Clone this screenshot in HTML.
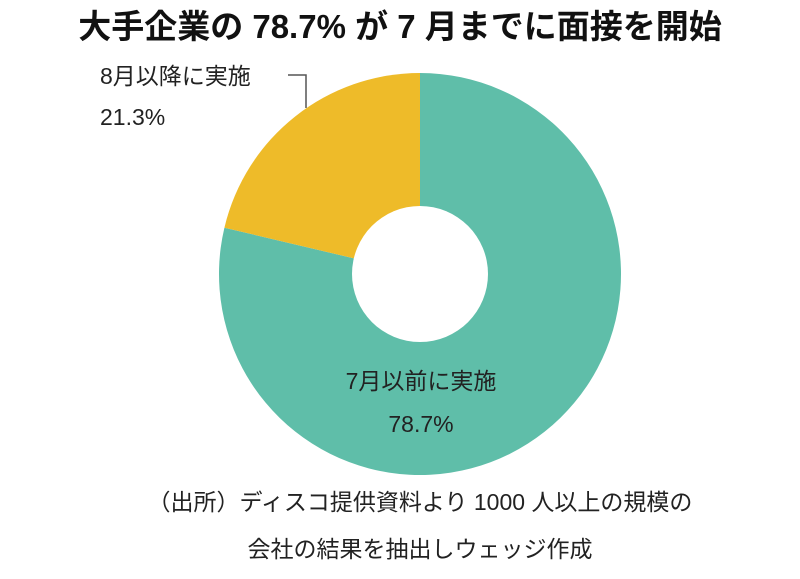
<!DOCTYPE html>
<html><head><meta charset="utf-8"><style>
body{margin:0;width:800px;height:574px;background:#fff;overflow:hidden;font-family:"Liberation Sans","Noto Sans CJK JP",sans-serif}
</style></head><body>
<svg width="800" height="574" font-family="Liberation Sans, Noto Sans CJK JP, sans-serif">
<text x="400" y="38" text-anchor="middle" font-size="33" font-weight="bold" fill="#111">大手企業の 78.7% が 7 月までに面接を開始</text>
<g id="slices"></g>
<circle cx="420" cy="274" r="68" fill="#fff"/>
<polyline points="288,75 306,75 306,108" fill="none" stroke="#555" stroke-width="1.5"/>
<text x="100" y="84" font-size="23" fill="#222">8月以降に実施</text>
<text x="100" y="125" font-size="23" fill="#222">21.3%</text>
<text x="421" y="389" text-anchor="middle" font-size="23" fill="#222">7月以前に実施</text>
<text x="421" y="432" text-anchor="middle" font-size="23" fill="#222">78.7%</text>
<text x="420" y="510" text-anchor="middle" font-size="23" fill="#222">（出所）ディスコ提供資料より 1000 人以上の規模の</text>
<text x="420" y="557" text-anchor="middle" font-size="23" fill="#222">会社の結果を抽出しウェッジ作成</text>
</svg>
<script>
const categories=["7月以前に実施","8月以降に実施"];
const values=[78.7,21.3];
const colors=["#5fbea9","#eebb29"];
const cx=420,cy=274,r=201;
const g=document.getElementById('slices');
const total=values.reduce((a,b)=>a+b,0);
let start=0;
values.forEach((v,i)=>{
  const a0=start/total*2*Math.PI, a1=(start+v)/total*2*Math.PI;
  start+=v;
  const x0=cx+r*Math.sin(a0),y0=cy-r*Math.cos(a0),x1=cx+r*Math.sin(a1),y1=cy-r*Math.cos(a1);
  const large=(a1-a0)>Math.PI?1:0;
  const p=document.createElementNS('http://www.w3.org/2000/svg','path');
  p.setAttribute('d',`M${cx},${cy} L${x0},${y0} A${r},${r} 0 ${large} 1 ${x1},${y1} Z`);
  p.setAttribute('fill',colors[i]);
  
  
  g.appendChild(p);
});
</script>
</body></html>
